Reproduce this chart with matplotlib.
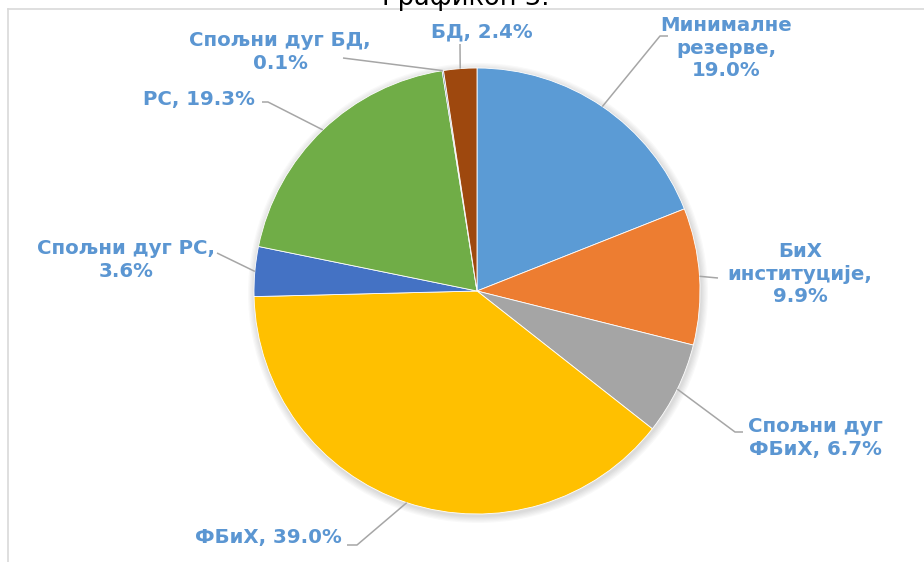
import numpy as np
import matplotlib
matplotlib.use("Agg")
import matplotlib.pyplot as plt
from matplotlib.patches import Circle

plt.rcParams['font.family'] = ['DejaVu Sans']

# Data
categories = ["Минималне\nрезерве,", "БиХ\nинституције,", "Спољни дуг\nФБиХ,", "ФБиХ,",
              "Спољни дуг РС,", "РС,", "Спољни дуг БД,", "БД,"]
separators = ["\n", "\n", " ", " ", "\n", " ", "\n", " "]
values = [19.0, 9.9, 6.7, 39.0, 3.6, 19.3, 0.1, 2.4]
colors = ["#5B9BD5", "#ED7D31", "#A5A5A5", "#FFC000", "#4472C4", "#70AD47", "#264478", "#9E480E"]
title = "Графикон 3."

W, H = 924, 562
fig = plt.figure(figsize=(W / 100, H / 100), dpi=100)
ax = fig.add_axes([0, 0, 1, 1])

cx, cy_px, R = 477, 291, 223
cy = H - cy_px

# soft shadow
for i in range(6):
    ax.add_patch(Circle((cx + 1, cy - 2), R + 1 + i * 1.2, color='black', alpha=0.022, zorder=0, lw=0))

wedges, _ = ax.pie(values, colors=colors, startangle=90, counterclock=False,
                   center=(cx, cy), radius=R, frame=True,
                   wedgeprops=dict(linewidth=0.6, edgecolor='white'))
ax.set_xlim(0, W)
ax.set_ylim(0, H)
ax.set_aspect('equal')
ax.axis('off')

label_color = "#5B96D2"
lead_color = "#A6A6A6"

# label layout (pixel coords): text centre, leader elbow, leader end
layout = [
    dict(txt=(726, 48), elbow=(660, 36), end=(668, 36)),
    dict(txt=(800, 274), elbow=(718, 278), end=(718, 278)),
    dict(txt=(815, 438), elbow=(735, 432), end=(743, 432)),
    dict(txt=(268, 537), elbow=(357, 545), end=(347, 545)),
    dict(txt=(126, 260), elbow=(217, 253), end=(217, 253)),
    dict(txt=(199, 100), elbow=(268, 102), end=(262, 102)),
    dict(txt=(280, 52), elbow=(343, 58), end=(343, 58)),
    dict(txt=(482, 32), elbow=(460, 44), end=(460, 44)),
]

total = sum(values)
cum = 0.0
for cat, sep, v, lay in zip(categories, separators, values, layout):
    mid = 90 - (cum + v / 2) / total * 360
    cum += v
    ex = cx + R * np.cos(np.radians(mid))
    ey = cy + R * np.sin(np.radians(mid))
    xs = [ex, lay['elbow'][0], lay['end'][0]]
    ys = [ey, H - lay['elbow'][1], H - lay['end'][1]]
    ax.plot(xs, ys, color=lead_color, lw=1.1, zorder=3, solid_capstyle='butt')
    text = f"{cat}{sep}{v:.1f}%"
    ax.text(lay['txt'][0], H - lay['txt'][1], text, ha='center', va='center',
            fontsize=14.2, fontweight='bold', color=label_color, linespacing=1.22, zorder=4,
            multialignment='center')

# frame lines
ax.plot([8, W], [H - 9, H - 9], color="#D9D9D9", lw=1.2, zorder=1)
ax.plot([8, 8], [H - 9, 0], color="#D9D9D9", lw=1.2, zorder=1)

# title (cut off at the top edge, as in the source)
ax.text(466, H - 5, title, ha='center', va='baseline', fontsize=18.5, color='black', zorder=5)

fig.savefig("out.png", dpi=100)
